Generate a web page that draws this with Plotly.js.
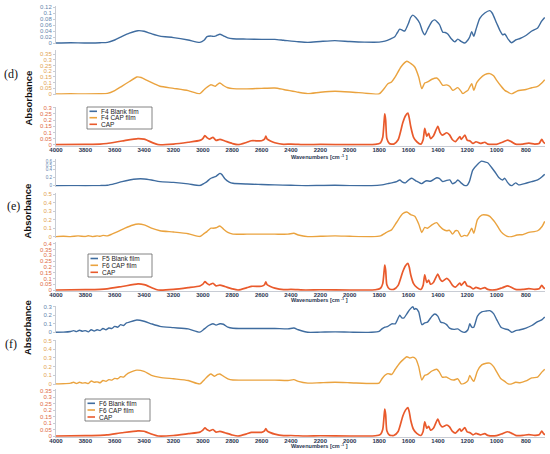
<!DOCTYPE html>
<html><head><meta charset="utf-8">
<script src="https://cdn.plot.ly/plotly-3.0.1.min.js"></script>
<style>html,body{margin:0;padding:0;background:#fff}#plot{width:550px;height:454px}</style>
</head><body><div id="plot"></div>
<script>
// ---------- DATA (wavenumber cm-1, absorbance) ----------
// Panel (d)
const dBlankX = [4000,3900,3800,3700,3650,3600,3550,3500,3442,3400,3350,3292,3200,3100,3020,2990,2972,2940,2931,2910,2884,2860,2830,2795,2700,2600,2510,2450,2350,2285,2200,2101,2000,1900,1800,1760,1720,1693,1675,1659,1640,1625,1600,1585,1570,1550,1523,1505,1489,1470,1440,1420,1400,1387,1366,1350,1332,1310,1284,1264,1240,1216,1195,1182,1169,1155,1140,1114,1080,1046,1030,999,975,958,944,920,897,870,840,800,760,720,694,672];
const dBlankY = [0,0.001,0,0.001,0.002,0.01,0.022,0.033,0.041,0.039,0.031,0.023,0.018,0.01,0.002,0.01,0.021,0.023,0.022,0.024,0.029,0.024,0.017,0.014,0.013,0.012,0.012,0.009,0.004,0.002,0.005,0.008,0.005,0.003,0.003,0.006,0.014,0.021,0.035,0.046,0.042,0.04,0.065,0.085,0.093,0.085,0.066,0.04,0.027,0.045,0.072,0.077,0.068,0.06,0.036,0.035,0.03,0.015,0.004,0.013,0.005,0,0.01,0.021,0.038,0.022,0.045,0.082,0.1,0.108,0.1,0.066,0.04,0.027,0.03,0.012,0.001,0.01,0.015,0.025,0.04,0.05,0.072,0.085];
const dFilmX = [4000,3900,3800,3700,3650,3600,3550,3500,3449,3420,3380,3330,3292,3200,3100,3020,2990,2972,2945,2931,2915,2900,2884,2860,2830,2795,2700,2600,2510,2450,2350,2285,2200,2101,2000,1900,1800,1770,1740,1715,1690,1650,1611,1585,1557,1530,1509,1489,1470,1440,1407,1390,1366,1340,1320,1298,1264,1245,1230,1210,1195,1169,1155,1135,1114,1080,1046,1020,999,970,944,920,897,860,800,760,720,690,672];
const dFilmY = [0,0.002,0.001,0.002,0.005,0.03,0.07,0.11,0.15,0.145,0.12,0.09,0.068,0.05,0.03,0.003,0.04,0.06,0.082,0.075,0.068,0.085,0.097,0.075,0.055,0.047,0.045,0.05,0.053,0.04,0.015,0.003,0.015,0.024,0.018,0.008,0,0.04,0.09,0.106,0.15,0.24,0.288,0.27,0.238,0.15,0.047,0.097,0.106,0.13,0.141,0.12,0.076,0.08,0.068,0.032,0.056,0.03,0.003,0.02,0.032,0.091,0.032,0.1,0.135,0.17,0.18,0.16,0.12,0.07,0.032,0.015,0,0.026,0.04,0.055,0.068,0.1,0.126];
const dCapX = [4000,3800,3700,3653,3550,3442,3400,3383,3340,3305,3200,3100,3020,3000,2986,2970,2955,2931,2910,2884,2850,2800,2760,2700,2669,2600,2580,2571,2562,2540,2510,2450,2400,2300,2200,2000,1900,1826,1790,1775,1765,1761,1755,1747,1730,1700,1670,1638,1620,1604,1595,1584,1565,1543,1515,1500,1489,1475,1462,1450,1430,1400,1385,1370,1339,1320,1300,1280,1250,1240,1216,1200,1180,1160,1140,1110,1080,1060,1000,960,924,900,870,820,780,740,710,692,680,670];
const dCapY = [0,0.003,0.005,0.01,0.03,0.05,0.045,0.038,0.015,0,0.005,0.02,0.035,0.05,0.073,0.055,0.045,0.06,0.035,0.043,0.03,0.01,0,0.02,0.032,0.032,0.045,0.07,0.045,0.03,0.016,0.003,0.005,0,0.002,0,0,0.002,0.015,0.06,0.2,0.25,0.2,0.05,0.01,0.005,0.04,0.18,0.235,0.257,0.22,0.146,0.06,0.024,0.005,0.04,0.132,0.07,0.092,0.05,0.07,0.15,0.1,0.078,0.097,0.08,0.04,0.025,0.065,0.043,0.078,0.038,0.03,0.01,0.024,0.01,0.02,0.005,0.003,0.02,0.038,0.025,0.005,0.005,0.012,0.005,0.01,0.043,0.02,0.01];
// Panel (e)
const eBlankX = [4000,3900,3800,3700,3650,3600,3550,3500,3450,3400,3350,3292,3200,3100,3020,2990,2972,2950,2931,2910,2884,2870,2850,2820,2795,2700,2600,2510,2400,2300,2200,2100,2000,1850,1780,1740,1714,1680,1659,1640,1620,1595,1577,1550,1509,1490,1475,1450,1420,1407,1390,1366,1340,1318,1300,1280,1264,1245,1220,1203,1185,1162,1130,1101,1080,1060,1035,1012,985,958,944,925,910,895,870,850,800,760,720,690,672];
const eBlankY = [0,0.002,0,0.003,0.01,0.05,0.1,0.14,0.165,0.165,0.14,0.1,0.08,0.045,0.005,0.06,0.1,0.17,0.2,0.23,0.3,0.27,0.17,0.09,0.06,0.04,0.03,0.02,0.01,0,0.005,0.01,0.003,0,0.02,0.05,0.07,0.1,0.14,0.09,0.07,0.15,0.18,0.12,0.05,0.1,0.12,0.11,0.17,0.195,0.18,0.1,0.13,0.14,0.05,0.08,0.14,0.08,0.01,0,0.1,0.38,0.52,0.6,0.58,0.56,0.45,0.34,0.2,0.14,0.18,0.08,0.02,0,0.07,0.02,0.06,0.1,0.14,0.22,0.28];
const eFilmX = [4000,3950,3900,3850,3800,3780,3750,3720,3700,3680,3650,3620,3580,3530,3480,3440,3400,3350,3292,3200,3100,3020,2990,2972,2945,2931,2910,2884,2860,2830,2795,2700,2600,2510,2420,2380,2350,2285,2200,2100,2000,1850,1790,1760,1740,1715,1680,1640,1611,1585,1557,1530,1509,1489,1470,1440,1407,1390,1366,1340,1320,1300,1280,1264,1240,1220,1200,1185,1169,1155,1130,1101,1070,1046,1020,999,970,944,920,897,860,820,780,720,690,672];
const eFilmY = [0,0.005,0,0.01,0.002,0.012,0,0.01,0.005,0.015,0.01,0.03,0.06,0.1,0.135,0.15,0.14,0.1,0.07,0.055,0.035,0.002,0.04,0.06,0.1,0.1,0.105,0.126,0.09,0.05,0.03,0.03,0.03,0.03,0.03,0.04,0.02,0,0.005,0.01,0.005,0,0.01,0.04,0.06,0.08,0.17,0.27,0.29,0.26,0.24,0.15,0.05,0.11,0.1,0.14,0.165,0.13,0.09,0.07,0.075,0.03,0.07,0.07,0,0.015,0.01,0.05,0.1,0.04,0.2,0.255,0.255,0.24,0.19,0.14,0.06,0.02,0,0,0.02,0.025,0.05,0.07,0.12,0.18];
const eCapX = [4000,3800,3700,3653,3550,3442,3400,3383,3340,3305,3200,3100,3020,3000,2986,2970,2955,2931,2910,2884,2850,2800,2760,2700,2669,2600,2580,2571,2562,2540,2510,2450,2400,2300,2200,2000,1900,1826,1790,1775,1765,1761,1755,1747,1730,1700,1670,1638,1620,1604,1595,1584,1565,1543,1515,1500,1489,1475,1462,1450,1430,1400,1385,1370,1339,1320,1300,1280,1250,1240,1216,1200,1180,1160,1140,1110,1080,1060,1000,960,924,900,870,820,780,740,710,692,680,670];
const eCapY = [0,0.003,0.006,0.01,0.03,0.052,0.047,0.04,0.015,0,0.005,0.02,0.035,0.05,0.072,0.055,0.045,0.058,0.035,0.042,0.03,0.01,0,0.02,0.032,0.032,0.045,0.07,0.045,0.03,0.016,0.003,0.005,0,0.002,0,0,0.002,0.015,0.055,0.17,0.215,0.17,0.045,0.01,0.005,0.04,0.16,0.21,0.23,0.2,0.13,0.055,0.022,0.005,0.04,0.13,0.065,0.085,0.05,0.065,0.138,0.095,0.075,0.1,0.08,0.04,0.025,0.06,0.04,0.072,0.035,0.028,0.01,0.022,0.01,0.02,0.005,0.003,0.02,0.036,0.024,0.005,0.005,0.012,0.005,0.01,0.04,0.02,0.01];
// Panel (f)
const fBlankX = [4000,3950,3900,3880,3860,3840,3820,3800,3780,3760,3740,3720,3700,3680,3660,3640,3620,3600,3580,3560,3540,3520,3500,3450,3400,3350,3292,3200,3100,3020,2990,2960,2931,2910,2884,2860,2830,2795,2700,2600,2510,2420,2380,2350,2285,2200,2100,2000,1850,1800,1780,1760,1740,1714,1690,1659,1645,1630,1610,1590,1570,1560,1550,1530,1509,1489,1470,1440,1420,1400,1380,1360,1340,1320,1290,1264,1240,1216,1195,1182,1169,1155,1130,1101,1070,1046,1020,999,970,944,920,897,870,840,800,760,720,690,672];
const fBlankY = [0,0.002,0.01,0.02,0.008,0.025,0.012,0.02,0.005,0.03,0.015,0.03,0.02,0.045,0.03,0.05,0.045,0.07,0.06,0.09,0.08,0.11,0.12,0.145,0.13,0.1,0.07,0.055,0.04,0.002,0.04,0.08,0.1,0.085,0.1,0.095,0.06,0.047,0.045,0.045,0.045,0.04,0.05,0.03,0,0.002,0.005,0.002,0,0.01,0.04,0.06,0.07,0.1,0.1,0.2,0.17,0.17,0.22,0.27,0.3,0.27,0.28,0.24,0.09,0.11,0.12,0.19,0.215,0.19,0.12,0.11,0.09,0.05,0.035,0.04,0.01,0,0.03,0.1,0.06,0.06,0.19,0.24,0.25,0.255,0.22,0.15,0.06,0.04,0.03,0,0.02,0.03,0.05,0.08,0.125,0.15,0.18];
const fFilmX = [4000,3950,3900,3880,3860,3840,3820,3800,3780,3760,3740,3720,3700,3680,3660,3640,3620,3600,3580,3560,3540,3520,3500,3450,3400,3350,3292,3200,3100,3020,2990,2960,2945,2920,2900,2884,2860,2830,2795,2700,2600,2510,2420,2380,2350,2285,2200,2100,2000,1850,1800,1780,1760,1740,1714,1690,1660,1630,1611,1590,1570,1550,1530,1509,1489,1470,1440,1407,1390,1370,1340,1310,1290,1264,1240,1216,1195,1182,1169,1155,1130,1101,1070,1046,1020,999,970,944,920,897,870,840,800,760,720,690,672];
const fFilmY = [0,0.003,0.01,0.02,0.005,0.02,0.01,0.015,0.005,0.035,0.02,0.025,0.015,0.04,0.03,0.05,0.045,0.065,0.06,0.085,0.08,0.11,0.13,0.16,0.145,0.1,0.077,0.06,0.04,0,0.05,0.1,0.115,0.09,0.11,0.115,0.09,0.06,0.046,0.045,0.045,0.045,0.04,0.05,0.03,0.01,0.015,0.02,0.015,0.005,0.01,0.06,0.1,0.12,0.11,0.17,0.24,0.29,0.315,0.3,0.31,0.29,0.2,0.046,0.1,0.11,0.15,0.17,0.14,0.08,0.08,0.05,0.046,0.06,0,0.01,0.04,0.1,0.06,0.03,0.15,0.22,0.24,0.24,0.2,0.14,0.06,0.03,0,0,0.02,0.015,0.035,0.07,0.08,0.14,0.17];
const fCapX = [4000,3800,3700,3653,3550,3442,3400,3383,3340,3305,3200,3100,3020,3000,2986,2970,2955,2931,2910,2884,2850,2800,2760,2700,2669,2600,2580,2571,2562,2540,2510,2450,2400,2300,2200,2000,1900,1826,1790,1775,1765,1761,1755,1747,1730,1700,1670,1638,1620,1604,1595,1584,1565,1543,1515,1500,1489,1475,1462,1450,1430,1400,1385,1370,1339,1320,1300,1280,1250,1240,1216,1200,1180,1160,1140,1110,1080,1060,1000,960,924,900,870,820,780,740,710,692,680,670];
const fCapY = [0,0.003,0.005,0.008,0.025,0.04,0.037,0.03,0.012,0,0.004,0.018,0.03,0.045,0.062,0.048,0.04,0.05,0.03,0.036,0.025,0.008,0,0.017,0.028,0.028,0.04,0.057,0.04,0.026,0.014,0.003,0.004,0,0.002,0,0,0.002,0.013,0.05,0.165,0.208,0.165,0.04,0.008,0.004,0.035,0.155,0.2,0.22,0.19,0.12,0.05,0.02,0.004,0.035,0.11,0.06,0.075,0.045,0.06,0.13,0.09,0.07,0.085,0.07,0.035,0.022,0.055,0.037,0.065,0.032,0.025,0.009,0.02,0.009,0.018,0.005,0.003,0.018,0.033,0.022,0.005,0.005,0.011,0.005,0.009,0.038,0.018,0.009];

// Legend labels
const legD = ["F4 Blank film","F4 CAP film","CAP"];
const legE = ["F5 Blank film","F6 CAP film","CAP"];
const legF = ["F6 Blank film","F6 CAP film","CAP"];
const panelLabels = ["(d)","(e)","(f)"];

// Tick labels
const xTicks = [4000,3800,3600,3400,3200,3000,2800,2600,2400,2200,2000,1800,1600,1400,1200,1000,800];
const tdBlue = [0,0.02,0.04,0.06,0.08,0.1,0.12];
const tdOrange = [0,0.05,0.1,0.15,0.2,0.25,0.3,0.35];
const tdRed = [0,0.05,0.1,0.15,0.2,0.25,0.3];
const teBlue = [0,0.2,0.4,0.5,0.6];
const teOrange = [0,0.1,0.2,0.3,0.4,0.5];
const teRed = [0,0.05,0.1,0.15,0.2,0.25,0.3,0.35,0.4];
const tfBlue = [0,0.1,0.2,0.3];
const tfOrange = [0,0.1,0.2,0.3,0.4,0.5];
const tfRed = [0,0.05,0.1,0.15,0.2,0.25,0.3,0.35];

// ---------- STYLE / LAYOUT ----------
const W = 550, H = 454, ML = 56, MR = 5;
const PW = W - ML - MR;
const px2x = px => (px - ML) / PW;
const py2y = py => 1 - py / H;
const C_BLUE = '#3f6c9f', C_OR = '#eaa33f', C_RED = '#e95a2c';
const T_BLUE = '#6484ad', T_OR = '#e2a352', T_RED = '#e06a45';

function yax(z, s, lo, hi, ticks, col, xa, fs) {
  return {
    domain: [py2y(z - lo * s), py2y(z - hi * s)],
    range: [lo, hi], anchor: xa, fixedrange: true,
    tickmode: 'array', tickvals: ticks, ticktext: ticks.map(String),
    tickfont: {size: fs || 6, color: col, family: 'Liberation Sans, Arial, sans-serif'},
    showgrid: false, zeroline: false, showline: true, linecolor: '#c8ccd4', linewidth: 1,
    ticks: 'outside', ticklen: 2, tickcolor: '#c8ccd4'
  };
}
function xax(ya) {
  return {
    domain: [0, 1], range: [4000, 670], anchor: ya,
    tickmode: 'array', tickvals: xTicks, ticktext: xTicks.map(String),
    tickfont: {size: 6, color: '#2a3550', family: 'Liberation Sans, Arial, sans-serif', weight: 'bold'},
    showgrid: false, zeroline: false, showline: true, linecolor: '#c8ccd4', linewidth: 1,
    ticks: '', ticklen: 0, ticklabelstandoff: -2
  };
}

const layout = {
  width: W, height: H, margin: {l: ML, r: MR, t: 0, b: 0},
  paper_bgcolor: '#fff', plot_bgcolor: '#fff', showlegend: false,
  xaxis: xax('y3'), xaxis2: xax('y6'), xaxis3: xax('y9'),
  yaxis:  yax(43, 300, -0.004, 0.125, tdBlue, T_BLUE, 'x'),
  yaxis2: yax(94, 113.5, -0.005, 0.39, tdOrange, T_OR, 'x'),
  yaxis3: yax(144.7, 123, -0.008, 0.31, tdRed, T_RED, 'x'),
  yaxis4: yax(185.7, 41, -0.02, 0.65, teBlue, T_BLUE, 'x2', 4.6),
  yaxis5: yax(236.7, 85, -0.01, 0.52, teOrange, T_OR, 'x2'),
  yaxis6: yax(290, 116, -0.008, 0.41, teRed, T_RED, 'x2'),
  yaxis7: yax(332.3, 85, -0.01, 0.31, tfBlue, T_BLUE, 'x3'),
  yaxis8: yax(384, 86.7, -0.01, 0.51, tfOrange, T_OR, 'x3'),
  yaxis9: yax(436, 129.5, -0.007, 0.36, tfRed, T_RED, 'x3'),
  shapes: [], annotations: []
};

function tr(x, y, xa, ya, col, name, w) {
  return {x: x, y: y, xaxis: xa, yaxis: ya, type: 'scatter', mode: 'lines', name: name,
          line: {color: col, width: w, shape: 'spline', smoothing: 0.6}, hoverinfo: 'skip'};
}
const data = [
  tr(dBlankX, dBlankY, 'x', 'y', C_BLUE, legD[0], 1.4),
  tr(dFilmX, dFilmY, 'x', 'y2', C_OR, legD[1], 1.4),
  tr(dCapX, dCapY, 'x', 'y3', C_RED, legD[2], 1.7),
  tr(eBlankX, eBlankY, 'x2', 'y4', C_BLUE, legE[0], 1.4),
  tr(eFilmX, eFilmY, 'x2', 'y5', C_OR, legE[1], 1.4),
  tr(eCapX, eCapY, 'x2', 'y6', C_RED, legE[2], 1.7),
  tr(fBlankX, fBlankY, 'x3', 'y7', C_BLUE, legF[0], 1.4),
  tr(fFilmX, fFilmY, 'x3', 'y8', C_OR, legF[1], 1.4),
  tr(fCapX, fCapY, 'x3', 'y9', C_RED, legF[2], 1.7)
];

// Panel decorations: absorbance labels, panel letters, x titles, legends
const panelCfg = [
  {abs: 68.5, letter: [2, 65], xt: 157, leg: {x0: 87, x1: 152, y0: 107, y1: 129, rows: [111.3, 117.7, 124.3]}, names: legD},
  {abs: 211, letter: [5, 206], xt: 299.5, leg: {x0: 88, x1: 152, y0: 254, y1: 277, rows: [258.5, 265.3, 272.3]}, names: legE},
  {abs: 357, letter: [3, 353], xt: 451, leg: {x0: 85, x1: 150, y0: 399, y1: 421, rows: [403.3, 410, 417]}, names: legF}
];
const legCols = [C_BLUE, C_OR, C_RED];
panelCfg.forEach((p, i) => {
  layout.annotations.push({xref: 'paper', yref: 'paper', x: px2x(20), y: py2y(p.abs), text: '<b>Absorbance</b>',
    textangle: -90, showarrow: false, font: {size: 9.5, color: '#111', family: 'Liberation Sans, Arial, sans-serif'}});
  layout.annotations.push({xref: 'paper', yref: 'paper', x: px2x(p.letter[0]), y: py2y(p.letter[1]), text: panelLabels[i],
    showarrow: false, font: {size: 12, color: '#111', family: 'Liberation Serif, Times New Roman, serif'}});
  layout.annotations.push({xref: 'paper', yref: 'paper', x: px2x(319), y: py2y(p.xt), text: '<b>Wavenumbers [cm<sup> -1</sup> ]</b>',
    showarrow: false, font: {size: 5.5, color: '#2a3550', family: 'Liberation Sans, Arial, sans-serif'}});
  const L = p.leg;
  layout.shapes.push({type: 'rect', xref: 'paper', yref: 'paper', x0: px2x(L.x0), x1: px2x(L.x1), y0: py2y(L.y1), y1: py2y(L.y0),
    line: {color: '#666', width: 0.8}, fillcolor: '#fff'});
  L.rows.forEach((r, k) => {
    layout.shapes.push({type: 'line', xref: 'paper', yref: 'paper', x0: px2x(L.x0 + 2.5), x1: px2x(L.x0 + 10), y0: py2y(r), y1: py2y(r),
      line: {color: legCols[k], width: 1.6}});
    layout.annotations.push({xref: 'paper', yref: 'paper', x: px2x(L.x0 + 12), y: py2y(r), xanchor: 'left', yanchor: 'middle',
      text: p.names[k], showarrow: false, font: {size: 6.5, color: '#222', family: 'Liberation Sans, Arial, sans-serif'}});
  });
});

Plotly.newPlot('plot', data, layout, {staticPlot: true, displayModeBar: false});
</script></body></html>
